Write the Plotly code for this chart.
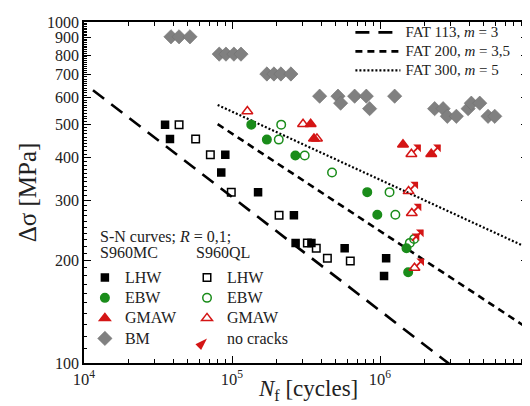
import numpy as np
import plotly.graph_objects as go

# ---------------- data ----------------
# S960MC (filled) and S960QL (open) : N_f [cycles], stress range [MPa]
mc_lhw_N = [35.3e3, 38.1e3, 90.1e3, 84.6e3, 150e3, 262e3, 269e3, 344e3, 577e3, 1.10e6, 1.065e6]
mc_lhw_S = [500, 454, 408, 362, 317, 271, 225, 225, 217, 203, 180]
ql_lhw_N = [43.9e3, 56.8e3, 71.4e3, 98.9e3, 208e3, 323e3, 371e3, 441e3, 630e3]
ql_lhw_S = [500, 454, 408, 317, 271, 225, 217, 203, 199]

mc_ebw_N = [135e3, 172e3, 268e3, 820e3, 959e3, 1.51e6, 1.55e6]
mc_ebw_S = [500, 452, 406, 317, 272, 217, 184.5]
ql_ebw_N = [215e3, 207e3, 310e3, 474e3, 1.16e6, 1.27e6, 1.59e6, 1.70e6]
ql_ebw_S = [500, 452, 406, 362, 317, 272, 225, 231]

mc_gmaw_N = [340e3, 358e3, 1.43e6, 2.22e6]
mc_gmaw_S = [502, 455, 437, 410]
ql_gmaw_N = [127e3, 302e3, 375e3, 1.63e6, 1.56e6, 1.64e6, 1.71e6]
ql_gmaw_S = [547, 502, 455, 410, 319, 275, 190]

bm_N = [38.7e3, 43.9e3, 52e3, 82e3, 91e3, 103e3, 115e3, 172e3, 192e3, 214e3, 250e3,
        391e3, 520e3, 542e3, 674e3, 808e3, 851e3, 1.256e6, 2.34e6, 2.67e6, 2.85e6,
        3.28e6, 3.94e6, 4.14e6, 4.72e6, 5.37e6, 5.96e6]
bm_S = [905, 905, 905, 805, 805, 805, 805, 704, 704, 704, 704,
        606, 606, 578, 606, 606, 557, 606, 557, 557, 529,
        529, 557, 578, 578, 529, 529]

# run-outs (no cracks)
runout_N = [1.59e6, 1.70e6, 2.22e6, 1.63e6, 1.56e6, 1.64e6, 1.71e6]
runout_S = [225, 231, 410, 410, 319, 275, 190]

# FAT design curves: (label, FAT class, slope m, N start)
fat_curves = [("FAT 113, <i>m</i> = 3", 113, 3.0, 1.15e4),
              ("FAT 200, <i>m</i> = 3,5", 200, 3.5, 8.0e4),
              ("FAT 300, <i>m</i> = 5", 300, 5.0, 8.0e4)]

y_major = [100, 200, 300, 400, 500, 600, 700, 800, 900, 1000]
x_major = [1e4, 1e5, 1e6, 1e7]
x_major_text = ["10<sup>4</sup>", "10<sup>5</sup>", "10<sup>6</sup>", "10<sup>7</sup>"]

# ---------------- style ----------------
BLACK = "#000000"
GREEN = "#1a8c1a"
RED = "#d41515"
GRAY = "#808080"
FONT = "Liberation Serif"
TXT = "#222222"


def big(txt, px):
    return '<span style="font-size:%dpx">%s</span>' % (px, txt)


fig = go.Figure()

# FAT lines
fat_styles = [dict(dash="14px,9px", width=2.6), dict(dash="7px,5px", width=2.6),
              dict(dash="2px,2px", width=2.2)]
for (lab, fat, m, n0), st in zip(fat_curves, fat_styles):
    N = np.logspace(np.log10(n0), 7, 200)
    S = fat * (2e6 / N) ** (1.0 / m)
    fig.add_trace(go.Scatter(x=N, y=S, mode="lines", name=big(lab, 15), legend="legend",
                             line=dict(color=BLACK, **st), hoverinfo="skip"))


def pts(N, S, name, sym, color, size, legend, rank, lw=1.5, line_color=None):
    fig.add_trace(go.Scatter(
        x=N, y=S, mode="markers", name=big(name, 16), legend=legend, legendrank=rank,
        marker=dict(symbol=sym, size=size, color=color,
                    line=dict(width=lw, color=line_color or color))))


pts(bm_N, bm_S, "BM", "diamond", GRAY, 11, "legend2", 4, lw=0.6, line_color="#707070")
pts(mc_lhw_N, mc_lhw_S, "LHW", "square", BLACK, 7, "legend2", 1)
pts(ql_lhw_N, ql_lhw_S, "LHW", "square-open", BLACK, 7.5, "legend3", 1)
pts(mc_ebw_N, mc_ebw_S, "EBW", "circle", GREEN, 8.5, "legend2", 2)
pts(ql_ebw_N, ql_ebw_S, "EBW", "circle-open", GREEN, 8.5, "legend3", 2)
pts(mc_gmaw_N, mc_gmaw_S, "GMAW", "triangle-up", RED, 9.5, "legend2", 3)
pts(ql_gmaw_N, ql_gmaw_S, "GMAW", "triangle-up-open", RED, 9.5, "legend3", 3)

# "no cracks" legend key
fig.add_trace(go.Scatter(x=[None], y=[None], mode="markers", name=big("no cracks", 16),
                         legend="legend3", legendrank=5,
                         marker=dict(symbol="arrow", angle=45, size=13, color=RED)))

# run-out arrows
for n, s in zip(runout_N, runout_S):
    fig.add_annotation(x=np.log10(n), y=np.log10(s), xref="x", yref="y",
                       text=" ", font=dict(size=1), showarrow=True,
                       ax=11, ay=-11, arrowside="start", arrowhead=2,
                       arrowsize=1.0, arrowwidth=1.8, arrowcolor=RED,
                       standoff=3, startstandoff=0)

# ---------------- axes ----------------
y_minor = [v for v in range(110, 1000, 10) if v % 100 != 0]
x_minor = [k * 10 ** e for e in range(4, 7) for k in range(2, 10)]

fig.update_xaxes(type="log", range=[4, 7], tickmode="array", tickvals=x_major,
                 ticktext=x_major_text, ticks="inside", ticklen=7, tickwidth=1.2,
                 tickcolor=BLACK, automargin=False,
                 showline=True, linecolor=BLACK, linewidth=1.5, mirror="ticks",
                 showgrid=False, zeroline=False,
                 tickfont=dict(family=FONT, size=16.5, color=TXT),
                 minor=dict(tickvals=x_minor, ticks="inside", ticklen=4, tickwidth=1,
                            tickcolor=BLACK, showgrid=False))
fig.update_yaxes(type="log", range=[2, 3], tickmode="array", tickvals=y_major,
                 ticktext=[str(v) for v in y_major], ticks="inside", ticklen=7,
                 tickwidth=1.2, tickcolor=BLACK, automargin=False,
                 showline=True, linecolor=BLACK, linewidth=1.5,
                 mirror="ticks", showgrid=False, zeroline=False,
                 tickfont=dict(family=FONT, size=16, color=TXT),
                 minor=dict(tickvals=y_minor, ticks="inside", ticklen=3, tickwidth=1,
                            tickcolor=BLACK, showgrid=False),
                 title=dict(text="Δσ [MPa]", font=dict(family=FONT, size=25, color=TXT),
                            standoff=3))

fig.update_layout(
    template="none",
    width=530, height=406,
    margin=dict(l=76, r=10, t=14, b=51),
    paper_bgcolor="white", plot_bgcolor="white",
    showlegend=True,
    legend=dict(x=0.600, y=1.012, xanchor="left", yanchor="top",
                bgcolor="rgba(0,0,0,0)", font=dict(family=FONT, size=12, color=TXT),
                itemwidth=45, tracegroupgap=0),
    legend2=dict(x=0.002, y=0.295, xanchor="left", yanchor="top",
                 bgcolor="rgba(0,0,0,0)", font=dict(family=FONT, size=13.3, color=TXT),
                 tracegroupgap=0),
    legend3=dict(x=0.232, y=0.295, xanchor="left", yanchor="top",
                 bgcolor="rgba(0,0,0,0)", font=dict(family=FONT, size=13.3, color=TXT),
                 tracegroupgap=0),
)

ann_font = dict(family=FONT, size=16, color=TXT)
fig.add_annotation(xref="paper", yref="paper", x=0.0315, y=0.370, xanchor="left",
                   yanchor="middle", showarrow=False,
                   text="S-N curves; <i>R</i> = 0,1;", font=ann_font)
fig.add_annotation(xref="paper", yref="paper", x=0.0315, y=0.323, xanchor="left",
                   yanchor="middle", showarrow=False, text="S960MC", font=ann_font)
fig.add_annotation(xref="paper", yref="paper", x=0.247, y=0.323, xanchor="left",
                   yanchor="middle", showarrow=False, text="S960QL", font=ann_font)
# x-axis title
fig.add_annotation(xref="paper", yref="paper", x=0.505, y=-0.079, xanchor="center",
                   yanchor="middle", showarrow=False,
                   text="<i>N</i><sub>f</sub> [cycles]",
                   font=dict(family=FONT, size=23, color=TXT))

fig.write_html("out.html")
